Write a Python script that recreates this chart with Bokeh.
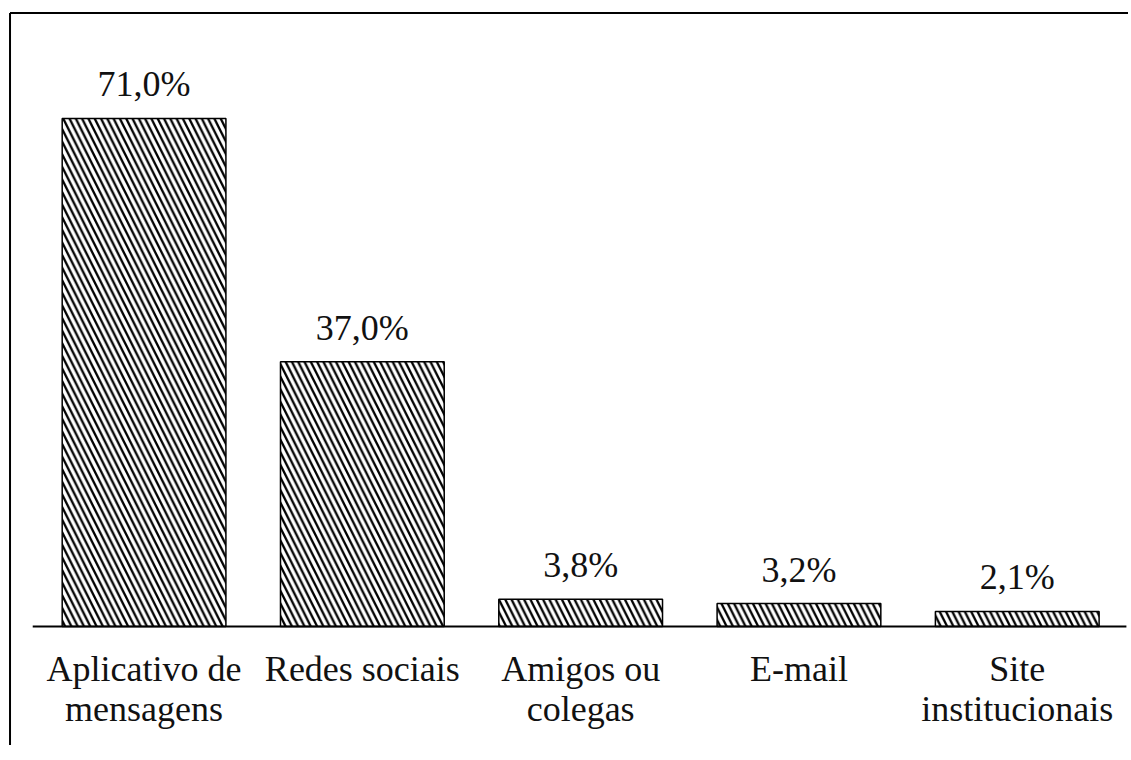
from bokeh.plotting import figure
from bokeh.models import ColumnDataSource
from bokeh.core.properties import value
from bokeh.embed import file_html
from bokeh.resources import INLINE

categories = ["Aplicativo de\nmensagens", "Redes sociais", "Amigos ou\ncolegas", "E-mail", "Site\ninstitucionais"]
values = [71.0, 37.0, 3.8, 3.2, 2.1]
value_labels = ["71,0%", "37,0%", "3,8%", "3,2%", "2,1%"]

xpos = [i + 0.5 for i in range(len(categories))]
line1 = [c.split("\n")[0] for c in categories]
line2 = [(c.split("\n") + [""])[1] for c in categories]
src = ColumnDataSource(dict(x=xpos, top=values, lab=value_labels,
                            zero=[0] * len(values), l1=line1, l2=line2))

FONT = "Times New Roman"
X0, X1 = -0.1576, 5.0096
Y0, Y1 = -16.63, 87.49
BX, BY = -0.114, 85.74

p = figure(width=1128, height=745, output_backend="svg", toolbar_location=None,
           x_range=(X0, X1), y_range=(Y0, Y1),
           min_border_left=0, min_border_right=0, min_border_top=0, min_border_bottom=0)
p.axis.visible = False
p.outline_line_color = None
p.xgrid.visible = False
p.ygrid.visible = False

# value labels and category labels
p.text(x="x", y="top", text="lab", source=src, text_align="center", text_baseline="alphabetic",
       y_offset=-34, text_font=value(FONT), text_font_size="36px", text_color="#111111")
p.text(x="x", y="zero", text="l1", source=src, text_align="center", text_baseline="alphabetic",
       y_offset=42, text_font=value(FONT), text_font_size="36px", text_color="#111111")
p.text(x="x", y="zero", text="l2", source=src, text_align="center", text_baseline="alphabetic",
       y_offset=82, text_font=value(FONT), text_font_size="36px", text_color="#111111")

# outer border (left and top edges)
p.segment(x0=[BX, BX], y0=[Y0, BY], x1=[BX, X1], y1=[BY, BY], line_color="black", line_width=2)

p.vbar(x="x", top="top", bottom=0, width=0.75, source=src,
       fill_color="white", line_color="black", line_width=1.5,
       hatch_pattern="\\", hatch_color="black", hatch_scale=12.6, hatch_weight=2.3)

# baseline
p.segment(x0=[-0.01], y0=[0], x1=[5.0], y1=[0], line_color="black", line_width=2)

open("out.html", "w").write(file_html(p, INLINE))
